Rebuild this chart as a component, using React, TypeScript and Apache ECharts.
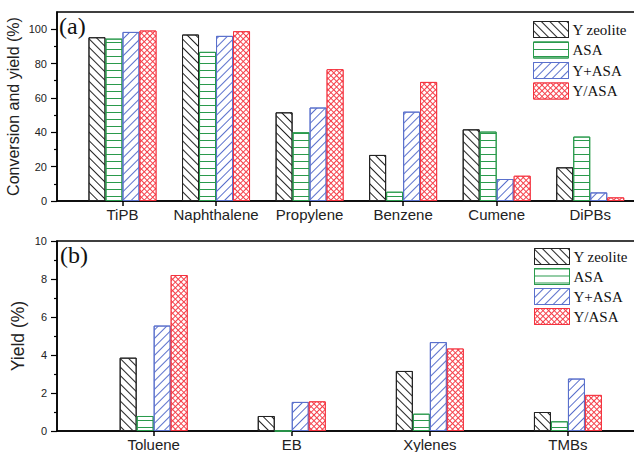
import React, { useEffect, useRef } from 'react';
import * as echarts from 'echarts';

const topCategories = ['TiPB', 'Naphthalene', 'Propylene', 'Benzene', 'Cumene', 'DiPBs'];
const bottomCategories = ['Toluene', 'EB', 'Xylenes', 'TMBs'];
const seriesNames = ['Y zeolite', 'ASA', 'Y+ASA', 'Y/ASA'];

const topYZeolite = [95.3, 96.9, 51.6, 26.8, 41.7, 19.6];
const topASA = [94.5, 86.8, 40.0, 5.4, 40.4, 37.5];
const topYplusASA = [98.4, 96.1, 54.4, 52.0, 12.8, 5.0];
const topYslashASA = [99.2, 98.8, 76.7, 69.3, 14.7, 2.1];

const bottomYZeolite = [3.86, 0.79, 3.16, 1.0];
const bottomASA = [0.79, 0, 0.91, 0.51];
const bottomYplusASA = [5.55, 1.53, 4.68, 2.76];
const bottomYslashASA = [8.21, 1.56, 4.34, 1.9];

const topYMajorTicks = [0, 20, 40, 60, 80, 100];
const topYMinorTicks = [10, 30, 50, 70, 90];
const bottomYMajorTicks = [0, 2, 4, 6, 8, 10];
const bottomYMinorTicks = [1, 3, 5, 7, 9];

const FONT_SANS = "'Liberation Sans', Arial, Helvetica, sans-serif";
const FONT_SERIF = "'Liberation Serif', 'Times New Roman', serif";

const styles = [
  {
    color: '#fff',
    borderColor: '#222',
    decal: { symbol: 'rect', symbolKeepAspect: false, color: '#222', dashArrayX: [1, 0], dashArrayY: [1, 5], rotation: Math.PI / 4 },
  },
  {
    color: '#fff',
    borderColor: '#2a9a4c',
    decal: { symbol: 'rect', symbolKeepAspect: false, color: '#2a9a4c', dashArrayX: [1, 0], dashArrayY: [1, 6], rotation: 0 },
  },
  {
    color: '#fff',
    borderColor: '#5a70cc',
    decal: { symbol: 'rect', symbolKeepAspect: false, color: '#5a70cc', dashArrayX: [1, 0], dashArrayY: [1, 5], rotation: -Math.PI / 4 },
  },
  {
    color: '#f5404a',
    borderColor: '#f4323e',
    decal: { symbol: 'rect', symbolKeepAspect: false, color: '#fff', dashArrayX: [3, 1], dashArrayY: [3, 1], rotation: Math.PI / 4 },
  },
];

const axisLineStyle = { color: '#000', width: 1.5 };

function xAxisFor(gridIndex: number, cats: string[]) {
  const positions = cats.map((_, i) => i + 1);
  return {
    type: 'value',
    gridIndex,
    min: 0.3,
    max: cats.length + 0.5,
    axisLine: { show: true, onZero: false, lineStyle: axisLineStyle },
    splitLine: { show: false },
    axisTick: { show: true, customValues: positions, length: 5, lineStyle: { color: '#000', width: 1.5 } },
    axisLabel: {
      show: true,
      customValues: positions,
      formatter: (v: number) => cats[Math.round(v) - 1] ?? '',
      fontFamily: FONT_SANS,
      fontSize: 15,
      color: '#222',
      margin: 6,
    },
  };
}

function yMain(gridIndex: number, max: number, interval: number, ticks: number[], name: string, nameGap: number, nameSize: number) {
  return {
    type: 'value',
    gridIndex,
    min: 0,
    max,
    interval,
    name,
    nameLocation: 'middle',
    nameGap,
    nameMoveOverlap: false,
    nameTextStyle: { fontFamily: FONT_SANS, fontSize: nameSize, color: '#222' },
    axisLine: { show: true, lineStyle: axisLineStyle },
    splitLine: { show: false },
    axisTick: { show: true, customValues: ticks, length: 6, lineStyle: { color: '#000', width: 1.2 } },
    axisLabel: { show: true, customValues: ticks, fontFamily: FONT_SANS, fontSize: 11, color: '#222', margin: 10 },
  };
}

function yMinor(gridIndex: number, max: number, ticks: number[]) {
  return {
    type: 'value',
    gridIndex,
    min: 0,
    max,
    position: 'left',
    axisLine: { show: false },
    splitLine: { show: false },
    axisLabel: { show: false },
    axisTick: { show: true, customValues: ticks, length: 3, lineStyle: { color: '#000', width: 1.2 } },
  };
}

function buildSeries(arrays: number[][], xAxisIndex: number, yAxisIndex: number) {
  return arrays.map((arr, i) => ({
    type: 'bar',
    name: seriesNames[i],
    xAxisIndex,
    yAxisIndex,
    barWidth: 17,
    barGap: '0%',
    data: arr.map((v, j) => [j + 1, v]),
    itemStyle: {
      color: styles[i].color,
      borderColor: styles[i].borderColor,
      borderWidth: 1,
      decal: styles[i].decal,
    },
  }));
}

function legendAt(left: number, top: number, gap: number) {
  return {
    data: seriesNames,
    orient: 'vertical',
    left,
    top,
    padding: 0,
    itemWidth: 35,
    itemHeight: 16,
    itemGap: gap,
    icon: 'rect',
    selectedMode: false,
    itemStyle: { borderWidth: 1 },
    textStyle: { fontFamily: FONT_SERIF, fontSize: 15, color: '#111', padding: [0, 0, 0, -1] },
  };
}

export default function App() {
  const ref = useRef<HTMLDivElement>(null);
  useEffect(() => {
    if (!ref.current) return;
    const chart = echarts.init(ref.current, null, { renderer: 'svg' });
    chart.setOption({
      animation: false,
      backgroundColor: '#fff',
      grid: [
        { left: 57, top: 12, width: 580, height: 189, outerBoundsMode: 'none', containLabel: false, show: true, borderColor: '#000', borderWidth: 1.5, backgroundColor: 'transparent' },
        { left: 57, top: 241, width: 580, height: 190, outerBoundsMode: 'none', containLabel: false, show: true, borderColor: '#000', borderWidth: 1.5, backgroundColor: 'transparent' },
      ],
      xAxis: [xAxisFor(0, topCategories), xAxisFor(1, bottomCategories)],
      yAxis: [
        yMain(0, 110, 20, topYMajorTicks, 'Conversion and yield (%)', 36, 16),
        yMinor(0, 110, topYMinorTicks),
        yMain(1, 10, 2, bottomYMajorTicks, 'Yield (%)', 30, 17.5),
        yMinor(1, 10, bottomYMinorTicks),
      ],
      legend: [legendAt(533, 21, 3.5), legendAt(534, 248, 3)],
      graphic: [
        { type: 'text', left: 59, top: 14, style: { text: '(a)', font: `24px ${FONT_SERIF}`, fill: '#111' } },
        { type: 'text', left: 60, top: 243, style: { text: '(b)', font: `24px ${FONT_SERIF}`, fill: '#111' } },
      ],
      series: [
        ...buildSeries([topYZeolite, topASA, topYplusASA, topYslashASA], 0, 0),
        ...buildSeries([bottomYZeolite, bottomASA, bottomYplusASA, bottomYslashASA], 1, 2),
      ],
    });
    return () => chart.dispose();
  }, []);
  return <div ref={ref} style={{ position: 'absolute', left: 0, top: 0, width: 634, height: 452 }} />;
}
